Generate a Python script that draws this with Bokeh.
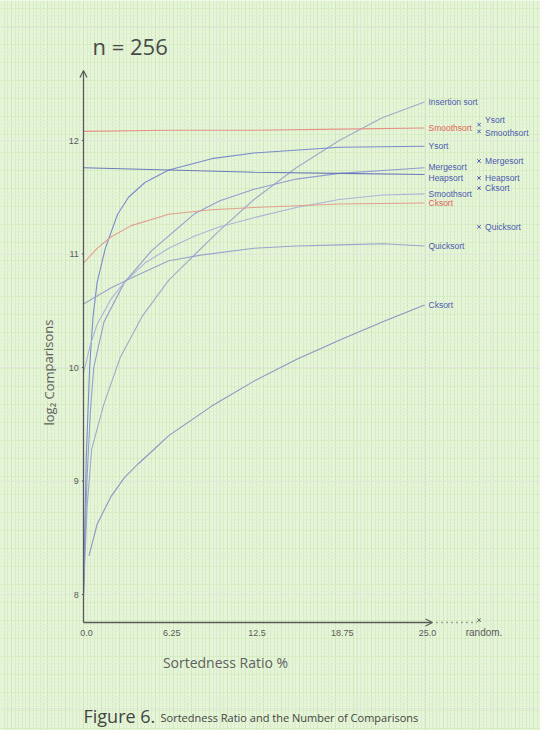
from bokeh.plotting import figure
from bokeh.models import Range1d, SingleIntervalTicker, Grid, Arrow, OpenHead, ColumnDataSource
from bokeh.core.properties import value
from bokeh.embed import file_html
from bokeh.resources import INLINE

# ---------------- data ----------------
title_text = "n = 256"
x_label = "Sortedness Ratio %"
y_label = "log\u2082 Comparisons"
x_ticks = [0.0, 6.25, 12.5, 18.75, 25.0]
x_tick_labels = ["0.0", "6.25", "12.5", "18.75", "25.0"]
random_x = 29.0
random_label = "random."
y_ticks = [8, 9, 10, 11, 12]
y_tick_labels = ["8", "9", "10", "11", "12"]

ins_x = [0, 0.25, 0.6, 1.5, 2.7, 4.3, 6.25, 8.2, 9.9, 12.5, 15.6, 18.75, 21.9, 25]
ins_y = [8.0, 8.75, 9.28, 9.68, 10.09, 10.45, 10.77, 11.0, 11.2, 11.48, 11.76, 12.0, 12.2, 12.34]

smr_x = [0, 6.25, 12.5, 18.75, 25]
smr_y = [12.08, 12.09, 12.09, 12.10, 12.11]

ys_x = [0, 0.2, 0.45, 0.7, 1.0, 1.6, 2.5, 3.3, 4.5, 6.25, 9.4, 12.5, 18.75, 25]
ys_y = [8.0, 9.2, 10.0, 10.45, 10.75, 11.05, 11.35, 11.5, 11.63, 11.74, 11.84, 11.89, 11.94, 11.95]

ms_x = [0, 0.25, 0.5, 0.75, 1.5, 3, 5, 6.25, 8.2, 10, 12.5, 15.6, 18.75, 25]
ms_y = [8.0, 9.0, 9.6, 10.0, 10.4, 10.75, 11.03, 11.16, 11.36, 11.47, 11.57, 11.66, 11.71, 11.76]

hs_x = [0, 6.25, 12.5, 18.75, 25]
hs_y = [11.76, 11.74, 11.72, 11.71, 11.70]

smb_x = [0, 0.5, 1, 2, 3, 4.5, 6.25, 8.2, 10, 12.5, 15.6, 18.75, 21.9, 25]
smb_y = [9.95, 10.2, 10.38, 10.6, 10.75, 10.92, 11.05, 11.16, 11.24, 11.32, 11.41, 11.48, 11.52, 11.53]

ckr_x = [0, 1, 2, 3.5, 6.25, 9.4, 12.5, 18.75, 25]
ckr_y = [10.92, 11.05, 11.15, 11.25, 11.35, 11.39, 11.41, 11.44, 11.45]

qs_x = [0, 1, 2, 3.7, 6.25, 8.6, 12.5, 15.6, 18.75, 22, 25]
qs_y = [10.56, 10.63, 10.7, 10.8, 10.94, 10.99, 11.05, 11.07, 11.08, 11.09, 11.07]

ck_x = [0.4, 1, 2, 3, 4, 5, 6.25, 9.4, 12.5, 15.6, 18.75, 21.9, 25]
ck_y = [8.34, 8.62, 8.86, 9.03, 9.15, 9.26, 9.4, 9.66, 9.88, 10.07, 10.24, 10.4, 10.55]

series_names = ["Insertion sort", "Smoothsort", "Ysort", "Mergesort", "Heapsort",
                "Smoothsort", "Cksort", "Quicksort", "Cksort"]
series_x = [ins_x, smr_x, ys_x, ms_x, hs_x, smb_x, ckr_x, qs_x, ck_x]
series_y = [ins_y, smr_y, ys_y, ms_y, hs_y, smb_y, ckr_y, qs_y, ck_y]

rand_names = ["Ysort", "Smoothsort", "Mergesort", "Heapsort", "Cksort", "Quicksort"]
rand_vals = [12.14, 12.08, 11.82, 11.67, 11.58, 11.24]

caption_head = "Figure 6."
caption_text = "Sortedness Ratio and the Number of Comparisons"

# ---------------- styling ----------------
BLUE_INK = "#4b5ab2"
RED_INK = "#e0645a"
line_colors = ["#9ba6c9", "#e58d82", "#7585cc", "#8c99cf", "#6575b8",
               "#a7b2d8", "#e39a8c", "#939fcc", "#8590c4"]
label_colors = [BLUE_INK, RED_INK, BLUE_INK, BLUE_INK, BLUE_INK,
                BLUE_INK, RED_INK, BLUE_INK, BLUE_INK]
label_dy = [0, 0, 0, -1, 3, 0, 0, 0, 0]
rand_dy = [-5, 2, 0, 0, 0, 0]

PAPER = "#e7f6da"
GRAY = "#5a5a5a"

# pixel geometry of the reference: x 0 -> 83px, 25 -> 424px ; y 12 -> 140px, 8 -> 594px
px_per_x = (424 - 83) / 25.0
px_per_y = (594 - 140) / 4.0
W, H = 540, 730
x0 = -83 / px_per_x
x1 = (W - 83) / px_per_x
y1 = 12 + 140 / px_per_y
y0 = 12 - (H - 140) / px_per_y

def yv(py):
    return 12 - (py - 140) / px_per_y

def xv(px):
    return (px - 83) / px_per_x

p = figure(width=W, height=H, x_range=Range1d(x0, x1), y_range=Range1d(y0, y1),
           output_backend="svg", toolbar_location=None, min_border=0,
           x_axis_location=None, y_axis_location=None)
p.outline_line_color = None
p.background_fill_color = PAPER
p.border_fill_color = PAPER

# graph paper
gx = Grid(dimension=0, ticker=SingleIntervalTicker(interval=18 / px_per_x, num_minor_ticks=5),
          grid_line_color="#cbe5b3", grid_line_width=1,
          minor_grid_line_color="#d6edc3", minor_grid_line_width=1)
gy = Grid(dimension=1, ticker=SingleIntervalTicker(interval=18 / px_per_y, num_minor_ticks=5),
          grid_line_color="#d6ecc2", grid_line_width=1,
          minor_grid_line_color="#e0f1d1", minor_grid_line_width=1)
p.add_layout(gx)
p.add_layout(gy)

# axes drawn by hand (as in the reference)
axis_base = yv(622)
p.add_layout(Arrow(end=OpenHead(size=7, line_color=GRAY, line_width=1.2),
                   x_start=0, y_start=axis_base, x_end=0, y_end=yv(70),
                   line_color=GRAY, line_width=1.3))
p.add_layout(Arrow(end=OpenHead(size=7, line_color=GRAY, line_width=1.2),
                   x_start=0, y_start=axis_base, x_end=xv(432), y_end=axis_base,
                   line_color=GRAY, line_width=1.3))
p.line([xv(436), random_x - 0.15], [axis_base, axis_base], line_color=GRAY,
       line_width=1.3, line_dash="1 4")
p.scatter([random_x], [axis_base + 0.02], marker="x", size=5, line_color=GRAY, line_width=1)

# y ticks
p.segment(x0=[-0.12] * len(y_ticks), y0=y_ticks, x1=[0] * len(y_ticks), y1=y_ticks,
          line_color=GRAY, line_width=1)
p.text(x=[-0.35] * len(y_ticks), y=y_ticks, text=y_tick_labels, text_align="right",
       text_baseline="middle", text_font_size="9px", text_color=GRAY,
       text_font=value("Liberation Sans"))
# x tick labels
p.text(x=x_ticks, y=[yv(632)] * len(x_ticks), text=x_tick_labels, text_align="center",
       text_baseline="middle", text_font_size="9px", text_color=GRAY, x_offset=3,
       text_font=value("Liberation Sans"))
p.text(x=[random_x], y=[yv(632)], text=[random_label], text_align="center",
       text_baseline="middle", text_font_size="10px", text_color=GRAY, x_offset=5,
       text_font=value("Liberation Sans"))

# curves
for xs, ys, c in zip(series_x, series_y, line_colors):
    p.line(xs, ys, line_color=c, line_width=1.1, line_alpha=0.95)

# end labels
end_src = ColumnDataSource(dict(
    x=[xs[-1] for xs in series_x],
    y=[ys[-1] for ys in series_y],
    t=series_names, c=label_colors, dy=label_dy))
p.text(x="x", y="y", text="t", source=end_src, text_color="c", y_offset="dy", x_offset=4,
       text_align="left", text_baseline="middle", text_font_size="8.5px",
       text_font=value("Liberation Sans"))

# random markers
p.scatter([random_x] * len(rand_vals), rand_vals, marker="x", size=5,
          line_color=BLUE_INK, line_width=1)
rsrc = ColumnDataSource(dict(x=[random_x] * len(rand_vals), y=rand_vals, t=rand_names, dy=rand_dy))
p.text(x="x", y="y", text="t", source=rsrc, y_offset="dy", x_offset=6,
       text_color=BLUE_INK, text_align="left", text_baseline="middle",
       text_font_size="8.5px", text_font=value("Liberation Sans"))

# title, axis titles, caption
p.text(x=[xv(92)], y=[yv(45)], text=[title_text], text_align="left", text_baseline="middle",
       text_font_size="22px", text_color="#4a4a4a", text_font=value("Open Sans"))
p.text(x=[xv(48)], y=[yv(372)], text=[y_label], angle=1.5708, text_align="center",
       text_baseline="middle", text_font_size="13px", text_color="#606060",
       text_font=value("Open Sans"))
p.text(x=[xv(225)], y=[yv(662)], text=[x_label], text_align="center", text_baseline="middle",
       text_font_size="14px", text_color="#606060", text_font=value("Open Sans"))
p.text(x=[xv(83)], y=[yv(715)], text=[caption_head], text_align="left", text_baseline="middle",
       text_font_size="18px", text_color="#444444", text_font=value("Open Sans"))
p.text(x=[xv(160)], y=[yv(717)], text=[caption_text], text_align="left", text_baseline="middle",
       text_font_size="11px", text_color="#444444", text_font=value("Open Sans"))

open("out.html", "w").write(file_html(p, INLINE))
